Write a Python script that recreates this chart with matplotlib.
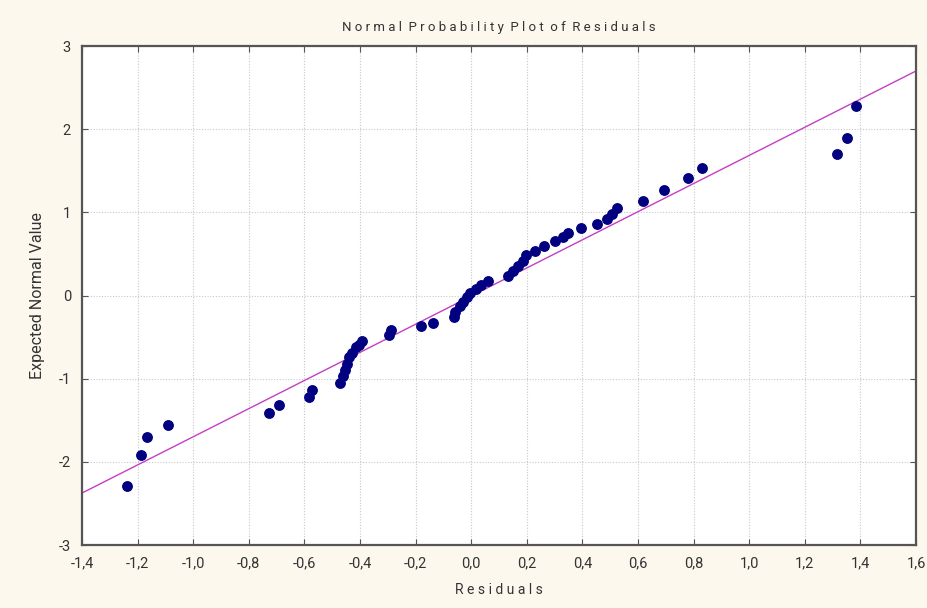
import matplotlib
matplotlib.use("Agg")
import matplotlib.pyplot as plt
from matplotlib.ticker import FuncFormatter

# residuals vs expected normal values
residuals = [-1.238, -1.188, -1.166, -1.091, -0.727, -0.691, -0.583, -0.573, -0.472,
             -0.463, -0.455, -0.448, -0.440, -0.430, -0.414, -0.405, -0.393,
             -0.296, -0.290, -0.180, -0.137,
             -0.062, -0.058, -0.040, -0.028, -0.017, -0.004, 0.017, 0.035, 0.060,
             0.132, 0.152, 0.170, 0.186, 0.197, 0.229, 0.262, 0.301, 0.330, 0.348, 0.395,
             0.452, 0.489, 0.507, 0.524,
             0.618, 0.694, 0.780, 0.830,
             1.317, 1.353, 1.384]
expected = [-2.29, -1.92, -1.70, -1.56, -1.41, -1.32, -1.22, -1.14, -1.05,
            -0.97, -0.90, -0.82, -0.74, -0.69, -0.62, -0.59, -0.55,
            -0.475, -0.415, -0.37, -0.33,
            -0.258, -0.197, -0.13, -0.08, -0.02, 0.03, 0.08, 0.13, 0.18,
            0.24, 0.29, 0.35, 0.41, 0.49, 0.54, 0.59, 0.65, 0.70, 0.75, 0.81,
            0.86, 0.92, 0.98, 1.05,
            1.14, 1.27, 1.41, 1.53,
            1.70, 1.90, 2.28]

# reference line endpoints
line_x = [-1.4, 1.6]
line_y = [-2.375, 2.70]

x_ticks = [-1.4, -1.2, -1.0, -0.8, -0.6, -0.4, -0.2, 0.0, 0.2, 0.4, 0.6, 0.8, 1.0, 1.2, 1.4, 1.6]
y_ticks = [-3, -2, -1, 0, 1, 2, 3]


def spaced(text):
    # letter-spaced look of the original title
    return "  ".join(" ".join(w) for w in text.split(" "))


bg = "#fdf8ee"
plt.rcParams["font.family"] = ["Roboto", "DejaVu Sans"]

fig = plt.figure(figsize=(9.28, 6.08), dpi=100, facecolor=bg)
ax = fig.add_axes([0.0884, 0.1036, 0.8987, 0.8207])
ax.set_facecolor("white")

ax.plot(line_x, line_y, color="#c43fc4", lw=1.0, zorder=2)
ax.plot(residuals, expected, "o", color="#000080", ms=6.8, mec="#000080", zorder=3)

ax.set_xlim(-1.4, 1.6)
ax.set_ylim(-3, 3)
ax.set_xticks(x_ticks)
ax.set_yticks(y_ticks)
ax.xaxis.set_major_formatter(FuncFormatter(lambda v, p: f"{v:.1f}".replace(".", ",").replace("-0,0", "0,0")))
ax.yaxis.set_major_formatter(FuncFormatter(lambda v, p: f"{v:.0f}"))

ax.grid(True, color="#c8c8c8", linestyle=(0, (1, 1.5)), lw=0.8)
ax.tick_params(direction="in", length=4, width=0.8, colors="#555555", labelcolor="#333333",
               labelsize=10.5, top=True, right=True, pad=8)
for s in ax.spines.values():
    s.set_color("#555555")
    s.set_linewidth(1.6)

ax.set_title(spaced("Normal Probability Plot of Residuals"),
             fontsize=9.5, color="#333333", pad=11)
ax.set_xlabel(spaced("Residuals"), fontsize=10, color="#333333", labelpad=9)
ax.set_ylabel("Expected Normal Value", fontsize=11.5, color="#333333", labelpad=10)

fig.savefig("out.png", dpi=100, facecolor=bg)
